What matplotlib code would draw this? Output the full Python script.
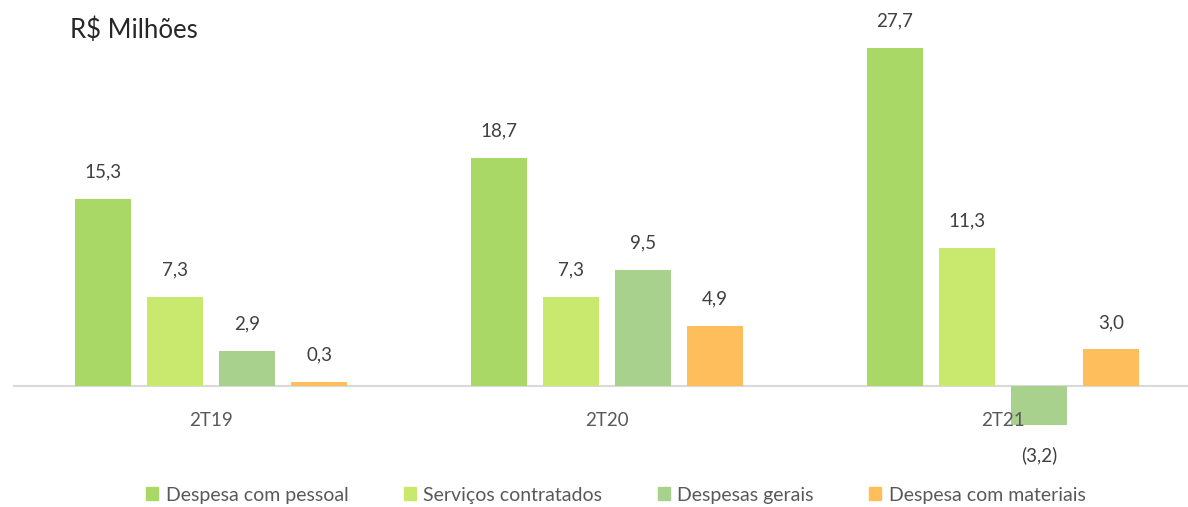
import matplotlib.pyplot as plt
import numpy as np
from matplotlib.patches import Patch

plt.rcParams['font.family'] = ['Lato', 'DejaVu Sans']

periodos = ['2T19', '2T20', '2T21']
series = ['Despesa com pessoal', 'Serviços contratados', 'Despesas gerais', 'Despesa com materiais']
pessoal = [15.3, 18.7, 27.7]
servicos = [7.3, 7.3, 11.3]
gerais = [2.9, 9.5, -3.2]
materiais = [0.3, 4.9, 3.0]
cores = ['#A9D866', '#C9E86E', '#A9D18E', '#FFBE5C']

W, H = 1188, 507
fig = plt.figure(figsize=(W / 100, H / 100), dpi=100)
# axes placed in pixel terms: zero line at y=386, 12.2 px per unit
px = 12.2
top, bot = 40, 440
ax = fig.add_axes([13 / W, 1 - bot / H, (W - 13) / W, (bot - top) / H])
ax.set_ylim(-(bot - 386) / px, (386 - top) / px)
ax.set_xlim(-0.5, 2.5 - (1201 - W) / 396)

x = np.arange(len(periodos))
step = 72 / 396
larg = 56 / 396
valores = [pessoal, servicos, gerais, materiais]
for i, (vals, cor) in enumerate(zip(valores, cores)):
    pos = x + (i - 1.5) * step
    ax.bar(pos, vals, width=larg, color=cor, zorder=2)
    for xp, v in zip(pos, vals):
        txt = f'{abs(v):.1f}'.replace('.', ',')
        if v < 0:
            txt = '(' + txt + ')'
            ax.annotate(txt, (xp, v), xytext=(0, -30), textcoords='offset pixels',
                        ha='center', va='center', fontsize=13.5, color='#404040')
        else:
            ax.annotate(txt, (xp, v), xytext=(0, 27), textcoords='offset pixels',
                        ha='center', va='center', fontsize=13.5, color='#404040')

ax.axhline(0, color='#D9D9D9', lw=1.5, zorder=1)
for xi, p in zip(x, periodos):
    ax.annotate(p, (xi, 0), xytext=(0, -35), textcoords='offset pixels',
                ha='center', va='center', fontsize=13.5, color='#595959', zorder=3)

ax.axis('off')

fig.text(70 / W, 1 - 30 / H, 'R$ Milhões', fontsize=18.5, color='#262626', va='center', ha='left')

handles = [Patch(color=c) for c in cores]
fig.legend(handles, series, loc='center', bbox_to_anchor=(616 / W, 1 - 495 / H), ncol=4,
           frameon=False, fontsize=14, handlelength=0.6, handleheight=0.6,
           handletextpad=0.4, columnspacing=2.85, labelcolor='#595959')

fig.savefig('out.png', dpi=100)
